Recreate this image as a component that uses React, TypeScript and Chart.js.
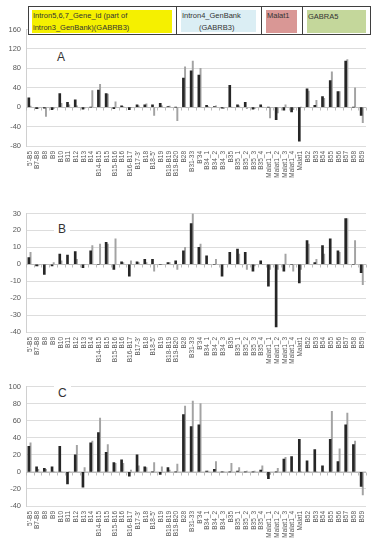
import React, { useEffect, useRef } from "react";
import { Chart, registerables } from "chart.js";

Chart.register(...registerables);

const categories = ["5'-B5","B7-B8","B8","B9","B10","B11","B12","B13","B14","B14-B15","B15","B15-B16","B16","B16-B17","B17-3'","B18","B18-5'","B19","B18-B19","B19-B20","B28","B31-33","B'34","B34_1","B34_2","B34_3","B35","B35_1","B35_2","B35_3","B35_4","Malat1_1","Malat1_2","Malat1_3","Malat1_4","Malat1","B52","B53","B54","B55","B56","B57","B58","B59"];

const panelADark = [19,-3,-2,-5,28,10,15,-4,0,35,28,-3,3,-5,5,5,5,8,1,0,60,75,66,4,1,-2,45,5,10,-4,5,0,-26,-6,-10,-70,38,4,22,55,32,95,0,-17];
const panelAGray = [2,-3,-19,-3,8,5,3,-2,34,47,27,11,1,-1,3,7,-17,3,2,-28,83,95,80,1,3,-3,0,3,-3,-3,0,-22,-12,5,-5,0,33,14,18,73,32,98,40,-32];

const panelBDark = [4,-1,-6,-1,6,5.5,7.5,-2,8,0,13,-3,1.5,-7,1.5,3,3,0,1,2,8,24,10,5,0,-7,7,9,7,-4,2,-13,-37,-4,0,-11,14,1,11,15,8,27,0,-5];
const panelBGray = [7,-1,0,1,2,0,3,0,11,12,12,15,1,2,1,1,-4,0,1,-3,10,30,12,0,3,0,0,6,-3,-1,0,-3,-3,6,-4,-3,12,3,6,0,7,27,14,-12];

const panelCDark = [30,6,4,6,30,-14,20,-18,34,46,23,11,14,-5,20,6,0,-3,5,0,67,53,55,1,3,0,0,1,0,0,2,-8,0,15,18,38,13,26,7,38,12,55,32,-17];
const panelCGray = [34,3,3,0,0,0,31,5,36,63,32,10,10,2,7,5,11,6,2,9,77,83,80,1,12,0,10,5,1,1,7,-3,4,17,0,0,0,0,0,71,27,69,36,-27];

const panelAAxis = { min: -80, max: 160, step: 40 };
const panelBAxis = { min: -40, max: 30, step: 10 };
const panelCAxis = { min: -40, max: 100, step: 20 };

const FONT = "'Liberation Sans', Arial, sans-serif";

const zeroAxisPlugin = {
  id: "zeroAxis",
  beforeDatasetsDraw(chart: any) {
    const { ctx, chartArea } = chart;
    const y = chart.scales.y;
    const y0 = Math.round(y.getPixelForValue(0)) + 0.5;
    const n = chart.data.labels.length;
    ctx.save();
    ctx.strokeStyle = "#bdbdbd";
    ctx.lineWidth = 1;
    ctx.beginPath();
    ctx.moveTo(chartArea.left, y0);
    ctx.lineTo(chartArea.right, y0);
    for (let i = 0; i <= n; i++) {
      const px = Math.round(chartArea.left + ((chartArea.right - chartArea.left) * i) / n) + 0.5;
      ctx.moveTo(px, y0);
      ctx.lineTo(px, y0 + 3);
    }
    ctx.stroke();
    ctx.restore();
  },
};

function makeConfig(dark: number[], gray: number[], axis: { min: number; max: number; step: number }): any {
  return {
    type: "bar",
    data: {
      labels: categories,
      datasets: [
        { data: dark, backgroundColor: "#262626", barThickness: 2, categoryPercentage: 0.8, barPercentage: 1 },
        { data: gray, backgroundColor: "#a3a3a3", barThickness: 1.3, categoryPercentage: 0.8, barPercentage: 1 },
      ],
    },
    options: {
      animation: false,
      responsive: false,
      maintainAspectRatio: false,
      layout: { padding: { top: 9, right: 16, left: 0, bottom: 0 } },
      plugins: { legend: { display: false }, tooltip: { enabled: false } },
      scales: {
        x: {
          grid: { display: false, drawTicks: false },
          border: { display: false },
          ticks: {
            autoSkip: false,
            maxRotation: 90,
            minRotation: 90,
            font: { size: 6.5, family: FONT },
            color: "#595959",
            padding: 5,
          },
          afterFit: (s: any) => {
            s.height = 39;
          },
        },
        y: {
          min: axis.min,
          max: axis.max,
          ticks: { stepSize: axis.step, font: { size: 7.5, family: FONT }, color: "#595959", padding: 5 },
          grid: { color: "#dddddd", drawTicks: false },
          border: { display: true, color: "#d0d0d0" },
          afterFit: (s: any) => {
            s.width = 26;
          },
        },
      },
    },
    plugins: [zeroAxisPlugin],
  };
}

function Panel({ top, height, dark, gray, axis }: any) {
  const ref = useRef<HTMLCanvasElement>(null);
  useEffect(() => {
    if (!ref.current) return;
    const chart = new Chart(ref.current, makeConfig(dark, gray, axis));
    return () => chart.destroy();
  }, []);
  return (
    <canvas
      ref={ref}
      width={382}
      height={height}
      style={{ position: "absolute", left: 0, top, width: 382, height }}
    />
  );
}

const letterStyle: any = {
  position: "absolute",
  fontFamily: FONT,
  fontSize: 12,
  lineHeight: "14px",
  color: "#333",
  background: "#fff",
  padding: "0 4px",
};

const cellText: any = {
  position: "absolute",
  fontFamily: FONT,
  fontSize: 7.5,
  lineHeight: "11.5px",
  color: "#333",
  whiteSpace: "nowrap",
};

export default function App() {
  return (
    <div style={{ position: "fixed", left: 0, top: 0, width: 382, height: 554, background: "#fff", overflow: "hidden" }}>
      <Panel top={20} height={165} dark={panelADark} gray={panelAGray} axis={panelAAxis} />
      <Panel top={204} height={167} dark={panelBDark} gray={panelBGray} axis={panelBAxis} />
      <Panel top={377} height={168} dark={panelCDark} gray={panelCGray} axis={panelCAxis} />

      <div style={{ ...letterStyle, left: 53, top: 50 }}>A</div>
      <div style={{ ...letterStyle, left: 54, top: 222 }}>B</div>
      <div style={{ ...letterStyle, left: 54, top: 386 }}>C</div>

      <div style={{ position: "absolute", left: 28, top: 6, width: 343, height: 29, border: "1px solid #3f3f3f", boxSizing: "border-box", background: "#fff" }}>
        <div style={{ position: "absolute", left: 147, top: 0, width: 1, height: 27, background: "#3f3f3f" }} />
        <div style={{ position: "absolute", left: 232, top: 0, width: 1, height: 27, background: "#3f3f3f" }} />
        <div style={{ position: "absolute", left: 273, top: 0, width: 1, height: 27, background: "#3f3f3f" }} />
        <div style={{ position: "absolute", left: 3, top: 3, width: 140, height: 23, background: "#f5f000" }}>
          <div style={{ ...cellText, left: 1, top: 0 }}>Intron5,6,7_Gene_id (part of</div>
          <div style={{ ...cellText, left: 1, top: 11.5 }}>intron3_GenBank)(GABRB3)</div>
        </div>
        <div style={{ position: "absolute", left: 152, top: 3, width: 75, height: 22, background: "#dbeef4" }}>
          <div style={{ ...cellText, left: 1, top: 0 }}>Intron4_GenBank</div>
          <div style={{ ...cellText, left: 18, top: 11.5 }}>(GABRB3)</div>
        </div>
        <div style={{ position: "absolute", left: 237, top: 3, width: 31, height: 23, background: "#d99795" }}>
          <div style={{ ...cellText, left: 1, top: 0 }}>Malat1</div>
        </div>
        <div style={{ position: "absolute", left: 278, top: 3, width: 59, height: 23, background: "#c4d79b" }}>
          <div style={{ ...cellText, left: 1, top: 1 }}>GABRA5</div>
        </div>
      </div>
    </div>
  );
}
